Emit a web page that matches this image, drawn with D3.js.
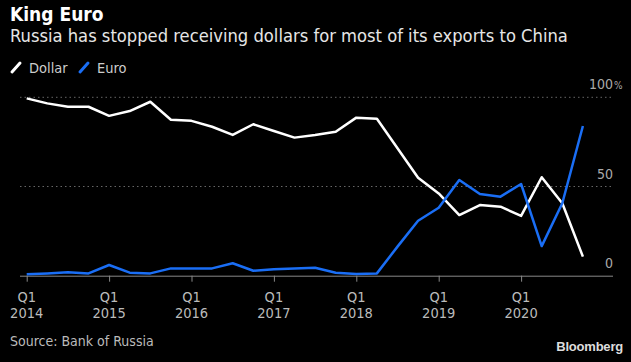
<!DOCTYPE html>
<html>
<head>
<meta charset="utf-8">
<script src="https://cdn.jsdelivr.net/npm/d3@7"></script>
<style>
  body { margin: 0; background: #000; }
  svg { display: block; font-family: "DejaVu Sans Condensed", "DejaVu Sans", sans-serif; }
</style>
</head>
<body>
<svg id="chart" width="631" height="362"></svg>
<script>
// quarters Q1 2014 .. Q4 2020
const quarters = d3.range(28).map(i => ({ year: 2014 + Math.floor(i / 4), q: (i % 4) + 1 }));
const dollar = [99.4, 96.6, 94.7, 94.7, 89.6, 92.3, 97.5, 87.4, 86.8, 83.5, 78.9, 84.9,
  81.1, 77.4, 78.9, 80.7, 88.6, 88.0, 71.4, 54.9, 46.1, 34.0, 39.6, 38.7, 33.5, 55.2, 40.6, 10.7];
const euro = [0.8, 1.3, 1.9, 1.3, 6.0, 1.7, 1.3, 4.1, 4.1, 4.1, 7.0, 2.8,
  3.6, 4.1, 4.5, 1.7, 1.0, 1.3, 16.3, 30.8, 38.1, 53.6, 45.8, 44.3, 51.4, 16.6, 40.6, 83.9];
const yTicks = [0, 50, 100];
const yearTicks = [2014, 2015, 2016, 2017, 2018, 2019, 2020];

const svg = d3.select('#chart');
const plotLeft = 20, plotRight = 613;

// time index in quarters from Q1 2014
const x = d3.scaleLinear().domain([0, 27]).range([26.7, 582.9]);
const y = d3.scaleLinear().domain([0, 100]).range([275.7, 97.3]);

svg.append('text').attr('x', 10).attr('y', 21)
  .attr('fill', '#fff').attr('font-size', 19).attr('font-weight', 'bold')
  .text('King Euro');
svg.append('text').attr('x', 10).attr('y', 42)
  .attr('fill', '#e6e6e6').attr('font-size', 18.2)
  .text('Russia has stopped receiving dollars for most of its exports to China');

// legend
const legend = [{ name: 'Dollar', color: '#fff', x: 12 }, { name: 'Euro', color: '#1a6ef5', x: 80 }];
legend.forEach(d => {
  svg.append('line').attr('x1', d.x).attr('y1', 72).attr('x2', d.x + 8).attr('y2', 63)
    .attr('stroke', d.color).attr('stroke-width', 3).attr('stroke-linecap', 'round');
  svg.append('text').attr('x', d.x + 17).attr('y', 72.5)
    .attr('fill', '#ccc').attr('font-size', 14.5).text(d.name);
});

// grid
svg.append('g').selectAll('line')
  .data(yTicks.filter(v => v > 0))
  .enter().append('line')
  .attr('x1', plotLeft).attr('x2', plotRight)
  .attr('y1', d => y(d)).attr('y2', d => y(d))
  .attr('stroke', '#666').attr('stroke-width', 1).attr('stroke-dasharray', '1.5,3');

// y labels
svg.append('g').selectAll('text')
  .data(yTicks)
  .enter().append('text')
  .attr('x', plotRight).attr('y', d => y(d) - 8)
  .attr('text-anchor', 'end')
  .attr('fill', '#aaa').attr('font-size', 14)
  .text(d => d);
svg.append('text').attr('x', plotRight + 1).attr('y', y(100) - 8)
  .attr('fill', '#aaa').attr('font-size', 10).text('%');

// x axis
const xAxis = svg.append('g')
  .attr('transform', `translate(0,${y(0)})`)
  .call(d3.axisBottom(x)
    .tickValues(yearTicks.map(yr => (yr - 2014) * 4))
    .tickSize(6)
    .tickFormat(''));
xAxis.select('.domain').attr('d', `M${plotLeft},0.5H${plotRight}`).attr('stroke', '#888');
xAxis.selectAll('.tick line').attr('stroke', '#888').attr('y1', 0);

const xl = svg.append('g').selectAll('g')
  .data(yearTicks)
  .enter().append('g')
  .attr('transform', d => `translate(${x((d - 2014) * 4)},0)`);
xl.append('text').attr('y', 302).attr('text-anchor', 'middle')
  .attr('fill', '#bbb').attr('font-size', 14.5).text('Q1');
xl.append('text').attr('y', 318).attr('text-anchor', 'middle')
  .attr('fill', '#bbb').attr('font-size', 14.5).text(d => d);

// lines
const line = d3.line().x((d, i) => x(i)).y(d => y(d));
svg.append('path').datum(dollar)
  .attr('d', line).attr('fill', 'none')
  .attr('stroke', '#fff').attr('stroke-width', 2.5).attr('stroke-linejoin', 'round');
svg.append('path').datum(euro)
  .attr('d', line).attr('fill', 'none')
  .attr('stroke', '#1a6ef5').attr('stroke-width', 2.5).attr('stroke-linejoin', 'round');

svg.append('text').attr('x', 10).attr('y', 346)
  .attr('fill', '#bbb').attr('font-size', 14).text('Source: Bank of Russia');
svg.append('text').attr('x', 623).attr('y', 351).attr('text-anchor', 'end')
  .attr('fill', '#ddd').attr('font-size', 13).attr('font-weight', 'bold')
  .attr('font-family', 'Liberation Sans, Arial, sans-serif').attr('letter-spacing', -0.2)
  .text('Bloomberg');
</script>
</body>
</html>
